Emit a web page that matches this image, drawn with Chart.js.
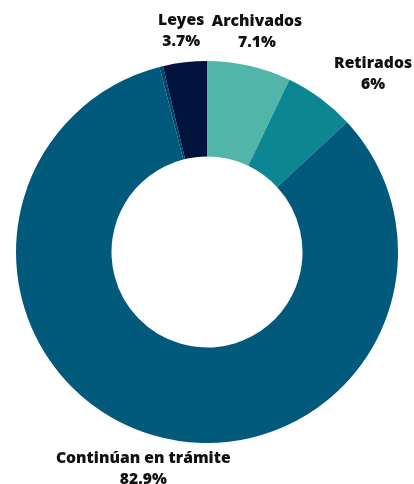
<!DOCTYPE html>
<html>
<head>
<meta charset="utf-8">
<script src="https://cdn.jsdelivr.net/npm/chart.js@4"></script>
<style>
  html, body { margin: 0; padding: 0; background: #fff; }
  #wrap { width: 414px; height: 484px; }
</style>
</head>
<body>
<div id="wrap"><canvas id="grafico1"></canvas></div>
<script>
const categorias = ['Archivados', 'Retirados', 'Continúan en trámite', '', 'Leyes'];
const valores = [7.1, 6, 82.9, 0.3, 3.7];
const etiquetas = ['7.1%', '6%', '82.9%', '', '3.7%'];
const colores = ['#52b5aa', '#0b8692', '#015a7b', '#00466a', '#00143d'];

const etiquetasExternas = {
    id: 'etiquetasExternas',
    afterDatasetsDraw(chart, args, opts) {
        const ctx = chart.ctx;
        const meta = chart.getDatasetMeta(0);
        ctx.save();
        ctx.fillStyle = '#111';
        ctx.textBaseline = 'middle';
        ctx.textAlign = 'center';
        ctx.font = '800 15.7px "Open Sans"';
        meta.data.forEach((arc, i) => {
            if (!categorias[i]) return;
            const p = arc.getProps(['x', 'y', 'startAngle', 'endAngle', 'outerRadius'], true);
            const ang = (p.startAngle + p.endAngle) / 2;
            const r = p.outerRadius + opts.offset + (opts.extra[i] || 0);
            let x = p.x + Math.cos(ang) * r;
            const y = p.y + Math.sin(ang) * r;
            const w = Math.max(ctx.measureText(categorias[i]).width, ctx.measureText(etiquetas[i]).width);
            const c = Math.cos(ang);
            if (c > 0.5) x += w / 2;
            else if (c < -0.5) x -= w / 2;
            // que no se salga del lienzo
            x = Math.min(x, chart.width - 2 - w / 2);
            x = Math.max(x, 2 + w / 2);
            ctx.fillText(categorias[i], x, y - 10);
            ctx.fillText(etiquetas[i], x, y + 11);
        });
        ctx.restore();
    }
};

new Chart(document.getElementById('grafico1'), {
    type: 'doughnut',
    data: {
        labels: categorias,
        datasets: [{
            data: valores,
            backgroundColor: colores,
            borderWidth: 0
        }]
    },
    options: {
        responsive: true,
        maintainAspectRatio: false,
        animation: false,
        cutout: '50%',
        layout: { padding: { top: 61, bottom: 41, left: 16, right: 16 } },
        plugins: {
            legend: { display: false },
            tooltip: { enabled: false },
            etiquetasExternas: { offset: 31, extra: [4, 0, 4, 0, 1] }
        }
    },
    plugins: [etiquetasExternas]
});
</script>
</body>
</html>
